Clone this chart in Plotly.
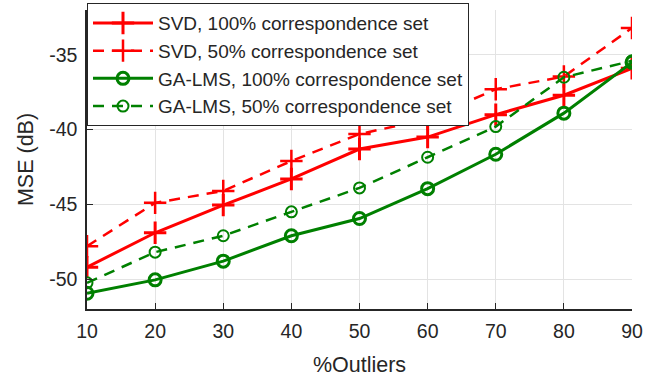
import plotly.graph_objects as go

outliers = [10, 20, 30, 40, 50, 60, 70, 80, 90]
svd_100 = [-49.2, -46.9, -45.05, -43.3, -41.3, -40.5, -39.0, -37.7, -35.9]
svd_50 = [-47.8, -44.9, -44.1, -42.1, -40.3, -39.3, -37.3, -36.45, -33.2]
ga_100 = [-50.95, -50.05, -48.8, -47.1, -45.95, -43.95, -41.65, -38.9, -35.5]
ga_50 = [-50.25, -48.2, -47.1, -45.5, -43.9, -41.85, -39.8, -36.5, -35.4]

names = ["SVD, 100% correspondence set", "SVD, 50% correspondence set",
         "GA-LMS, 100% correspondence set", "GA-LMS, 50% correspondence set"]

RED = "#FF0000"
GREEN = "#008000"
AX = "#262626"
FS = 19.5
LS = 19
TS = 21.5

fig = go.Figure()
fig.add_trace(go.Scatter(x=outliers, y=svd_100, name=names[0], mode="lines+markers",
                         line=dict(color=RED, width=3),
                         marker=dict(symbol="cross-thin", size=16, line=dict(color=RED, width=3))))
fig.add_trace(go.Scatter(x=outliers, y=svd_50, name=names[1], mode="lines+markers",
                         line=dict(color=RED, width=2.5, dash="11px,8px"),
                         marker=dict(symbol="cross-thin", size=16, line=dict(color=RED, width=2.5))))
fig.add_trace(go.Scatter(x=outliers, y=ga_100, name=names[2], mode="lines+markers",
                         line=dict(color=GREEN, width=3),
                         marker=dict(symbol="circle-open", size=12, color=GREEN, line=dict(color=GREEN, width=3))))
fig.add_trace(go.Scatter(x=outliers, y=ga_50, name=names[3], mode="lines+markers",
                         line=dict(color=GREEN, width=2.5, dash="11px,8px"),
                         marker=dict(symbol="circle-open", size=11, color=GREEN, line=dict(color=GREEN, width=2))))

fig.update_layout(
    width=655, height=381,
    margin=dict(l=87, r=23, t=10, b=72, autoexpand=False),
    paper_bgcolor="white", plot_bgcolor="white",
    font=dict(family="Liberation Sans, Arial, sans-serif", size=FS, color=AX),
    showlegend=True,
    legend=dict(x=0, y=1.023, xanchor="left", yanchor="top",
                bgcolor="white", bordercolor=AX, borderwidth=1,
                font=dict(size=LS, color=AX), tracegroupgap=0,
                itemwidth=60),
    xaxis=dict(range=[10, 90], tickvals=outliers, ticks="inside", ticklen=6,
               tickcolor=AX, showline=True, linecolor=AX, linewidth=1.5,
               showgrid=True, gridcolor="#E3E3E3", gridwidth=1, zeroline=False,
               automargin=False, ticklabelstandoff=4,
               title=dict(text="%Outliers", font=dict(size=TS, color=AX), standoff=16),
               tickfont=dict(size=FS, color=AX)),
    yaxis=dict(range=[-52, -32], tickvals=[-50, -45, -40, -35], ticktext=["-50", "-45", "-40", "-35"],
               ticks="inside", ticklen=6,
               tickcolor=AX, showline=True, linecolor=AX, linewidth=1.5,
               showgrid=True, gridcolor="#E3E3E3", gridwidth=1, zeroline=False,
               automargin=False, ticklabelstandoff=4,
               title=dict(text="MSE (dB)", font=dict(size=TS, color=AX), standoff=10),
               tickfont=dict(size=FS, color=AX)),
)

fig.write_html("out.html", config={"displayModeBar": False},
               post_script="document.body.style.margin='0';")
